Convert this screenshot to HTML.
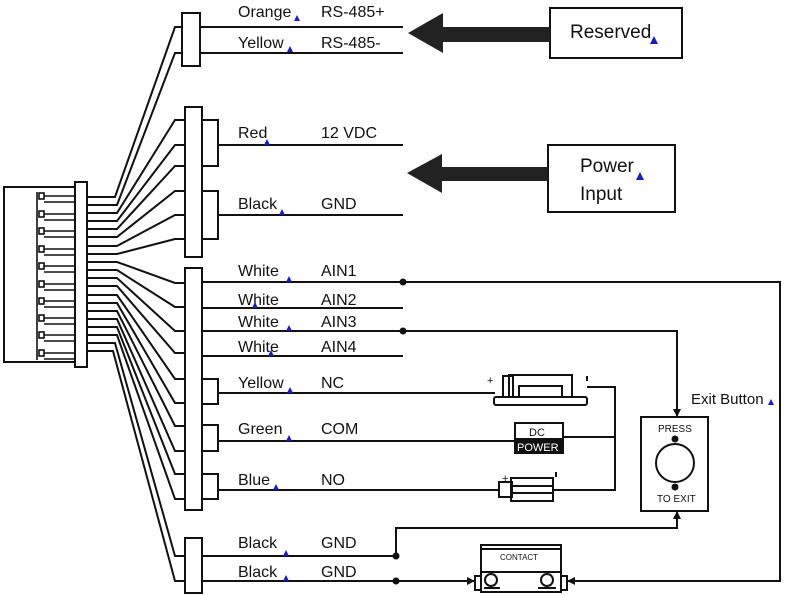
<!DOCTYPE html>
<html><head><meta charset="utf-8"><style>
html,body{margin:0;padding:0;background:#fff;}
svg{display:block;}
text{font-family:"Liberation Sans",sans-serif;fill:#111;}
</style></head><body>
<svg width="787" height="595" viewBox="0 0 787 595" xmlns="http://www.w3.org/2000/svg">
<g fill="none" stroke="#111" stroke-width="2">
<!-- connector -->
<polyline points="75,187 4,187 4,362 75,362"/>
<rect x="75" y="182" width="12" height="185" fill="#fff"/>
<g stroke-width="1.6">
<path d="M37,192 V360"/>
<rect x="39" y="193" width="5" height="6"/><path d="M44,196 H75 M44,202 H75"/>
<rect x="39" y="211" width="5" height="6"/><path d="M44,214 H75 M44,220 H75"/>
<rect x="39" y="228" width="5" height="6"/><path d="M44,231 H75 M44,237 H75"/>
<rect x="39" y="246" width="5" height="6"/><path d="M44,249 H75 M44,255 H75"/>
<rect x="39" y="263" width="5" height="6"/><path d="M44,266 H75 M44,272 H75"/>
<rect x="39" y="281" width="5" height="6"/><path d="M44,284 H75 M44,290 H75"/>
<rect x="39" y="298" width="5" height="6"/><path d="M44,301 H75 M44,307 H75"/>
<rect x="39" y="315" width="5" height="6"/><path d="M44,318 H75 M44,324 H75"/>
<rect x="39" y="332" width="5" height="6"/><path d="M44,335 H75 M44,341 H75"/>
<rect x="39" y="350" width="5" height="6"/><path d="M44,353 H75 M44,359 H75"/>
</g>
<!-- fan wires -->
<path d="M87,197 H115 L175,27 H182"/>
<path d="M87,205 H117 L175,53 H182"/>
<path d="M87,213 H117 L175,120 H185"/>
<path d="M87,221 H117 L175,145 H185"/>
<path d="M87,229 H117 L175,166 H185"/>
<path d="M87,237 H117 L175,191 H185"/>
<path d="M87,246 H117 L175,215 H185"/>
<path d="M87,254 H117 L175,239 H185"/>
<path d="M87,262 H117 L175,283 H185"/>
<path d="M87,270 H117 L175,307 H185"/>
<path d="M87,278 H117 L175,331 H185"/>
<path d="M87,286 H117 L175,353 H185"/>
<path d="M87,295 H117 L175,379 H185"/>
<path d="M87,303 H117 L175,403 H185"/>
<path d="M87,311 H117 L175,426 H185"/>
<path d="M87,319 H117 L175,451 H185"/>
<path d="M87,327 H117 L175,474 H185"/>
<path d="M87,335 H117 L175,499 H185"/>
<path d="M87,343 H115 L175,556 H185"/>
<path d="M87,351 H113 L175,581 H185"/>
<!-- group boxes -->
<rect x="182" y="13" width="18" height="53" fill="#fff"/>
<rect x="185" y="107" width="17" height="150" fill="#fff"/>
<rect x="185" y="268" width="17" height="242" fill="#fff"/>
<rect x="185" y="538" width="17" height="55" fill="#fff"/>
<path d="M202,120 H218 V166 H202 M202,191 H218 V239 H202"/>
<path d="M202,379 H218 V404 H202 M202,425 H218 V451 H202 M202,474 H218 V499 H202"/>
<!-- output lines -->
<path d="M200,27 H403 M200,53 H403 M218,145 H403 M218,215 H403"/>
<path d="M202,282 H780 V581 H567 M202,308 H403 M202,331 H677 V417 M202,356 H403"/>
<path d="M218,393 H495 M218,441 H515 M563,437 H615 M218,490 H499"/>
<path d="M587,387 H615 V490 H553"/>
<path d="M202,556 H396 V528 H677 V511 M202,581 H475"/>
<!-- boxes -->
<rect x="550" y="8" width="132" height="50"/>
<rect x="548" y="145" width="127" height="67"/>
<rect x="641" y="417" width="67" height="94"/>
<circle cx="675" cy="463" r="19"/>
<!-- lock -->
<rect x="494" y="397" width="93" height="8" rx="2"/>
<rect x="503" y="376" width="10" height="21"/>
<rect x="509" y="375" width="63" height="22"/>
<rect x="519" y="386" width="43" height="11"/>
<!-- dc power -->
<rect x="515" y="423" width="48" height="30"/>
<!-- NO device -->
<rect x="499" y="482" width="13" height="15"/>
<rect x="511" y="478" width="42" height="23"/>
<path d="M511,486 H553 M511,493 H553"/>
<!-- contact -->
<rect x="481" y="545" width="80" height="27"/>
<path d="M481,549 H561"/>
<rect x="481" y="572" width="80" height="20"/>
<rect x="475" y="576" width="6" height="14"/>
<rect x="561" y="576" width="6" height="14"/>
<circle cx="491" cy="580" r="6"/><circle cx="547" cy="580" r="6"/>
<path d="M484,588 H500 M538,588 H556"/>
</g>
<rect x="515" y="438" width="48" height="15" fill="#111"/>
<!-- big arrows -->
<polygon points="408,33 443,13 443,27 550,27 550,42 443,42 443,53" fill="#222"/>
<polygon points="407,173 442,154 442,167 548,167 548,181 442,181 442,193" fill="#222"/>
<!-- dots & arrowheads -->
<g fill="#111">
<circle cx="403" cy="282" r="3.5"/><circle cx="403" cy="331" r="3.5"/>
<circle cx="396" cy="556" r="3.5"/><circle cx="396" cy="581" r="3.5"/>
<circle cx="675" cy="439" r="3.5"/><circle cx="675" cy="487" r="3.5"/>
<polygon points="677,417 673,409 681,409"/>
<polygon points="677,511 673,519 681,519"/>
<polygon points="475,581 467,577 467,585"/>
<polygon points="567,581 575,577 575,585"/>
</g>
<!-- labels -->
<g font-size="16">
<text x="238" y="17">Orange</text><text x="321" y="17">RS-485+</text>
<text x="238" y="48">Yellow</text><text x="321" y="48">RS-485-</text>
<text x="238" y="138">Red</text><text x="321" y="138">12 VDC</text>
<text x="238" y="209">Black</text><text x="321" y="209">GND</text>
<text x="238" y="276">White</text><text x="321" y="276">AIN1</text>
<text x="238" y="305">White</text><text x="321" y="305">AIN2</text>
<text x="238" y="327">White</text><text x="321" y="327">AIN3</text>
<text x="238" y="352">White</text><text x="321" y="352">AIN4</text>
<text x="238" y="388">Yellow</text><text x="321" y="388">NC</text>
<text x="238" y="434">Green</text><text x="321" y="434">COM</text>
<text x="238" y="485">Blue</text><text x="321" y="485">NO</text>
<text x="238" y="548">Black</text><text x="321" y="548">GND</text>
<text x="238" y="577">Black</text><text x="321" y="577">GND</text>
<text x="691" y="404" font-size="15">Exit Button</text>
</g>
<text x="570" y="38" font-size="19">Reserved</text>
<text x="580" y="172" font-size="19">Power</text>
<text x="580" y="200" font-size="19">Input</text>
<text x="658" y="432" font-size="10">PRESS</text>
<text x="657" y="502" font-size="10">TO  EXIT</text>
<text x="529" y="436" font-size="11">DC</text>
<text x="517" y="451" font-size="11" style="fill:#fff">POWER</text>
<text x="500" y="560" font-size="8">CONTACT</text>
<text x="487" y="384" font-size="11">+</text>
<text x="502" y="482" font-size="11">+</text>
<path d="M587,376 V381 M556,472 V477" stroke="#111" stroke-width="2"/>
<!-- blue markers -->
<g fill="#1a1acc">
<polygon points="294,21 297,15 300,21"/><polygon points="287,52 290,46 293,52"/>
<polygon points="264,145 267,139 270,145"/><polygon points="279,215 282,209 285,215"/>
<polygon points="286,282 289,276 292,282"/><polygon points="252,308 255,302 258,308"/>
<polygon points="286,331 289,325 292,331"/><polygon points="268,356 271,350 274,356"/>
<polygon points="287,393 290,387 293,393"/><polygon points="286,441 289,435 292,441"/>
<polygon points="273,490 276,484 279,490"/><polygon points="283,556 286,550 289,556"/>
<polygon points="283,581 286,575 289,581"/><polygon points="768,405 771,399 774,405"/>
<polygon points="650,44 654,36 658,44"/><polygon points="636,180 640,172 644,180"/>
</g>
</svg>
</body></html>
